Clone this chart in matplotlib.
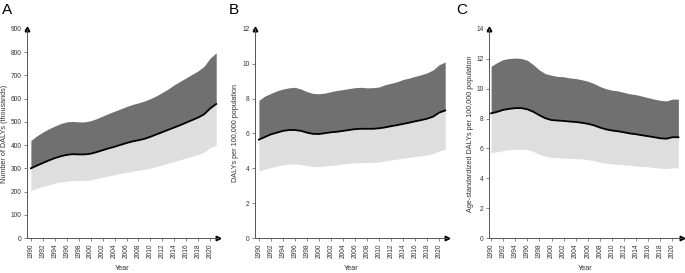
import numpy as np
import matplotlib.pyplot as plt

plt.rcParams['font.family'] = ['Liberation Sans', 'DejaVu Sans']

years = np.arange(1990, 2022)

# A: number of DALYs (thousands)
a_mean = [300, 312, 323, 334, 344, 352, 358, 361, 360, 360, 363, 370, 378, 386, 393, 401,
          409, 416, 421, 427, 436, 446, 456, 466, 476, 486, 497, 508, 519, 533, 558, 577]
a_upper = [420, 440, 456, 470, 482, 493, 500, 502, 500, 500, 505, 514, 525, 536, 546, 556,
           566, 575, 582, 590, 600, 612, 627, 642, 660, 675, 690, 705, 720, 740, 775, 797]
a_lower = [205, 214, 222, 229, 236, 241, 245, 247, 247, 248, 250, 256, 262, 267, 273, 278,
           283, 288, 292, 296, 301, 308, 315, 322, 330, 337, 345, 352, 360, 370, 390, 400]

# B: DALYs per 100,000
b_mean = [5.65, 5.8, 5.95, 6.05, 6.15, 6.2, 6.2, 6.15, 6.05, 5.98, 5.97, 6.02, 6.07, 6.1, 6.15, 6.2,
          6.25, 6.27, 6.27, 6.27, 6.3, 6.35, 6.42, 6.48, 6.55, 6.62, 6.7, 6.77, 6.85, 6.97, 7.2, 7.32]
b_upper = [7.9, 8.15, 8.3, 8.45, 8.55, 8.62, 8.65, 8.55, 8.4, 8.3, 8.28, 8.32, 8.4, 8.47, 8.52, 8.58,
           8.63, 8.65, 8.62, 8.63, 8.67, 8.8, 8.88, 8.97, 9.1, 9.18, 9.28, 9.37, 9.48, 9.65, 9.95, 10.1]
b_lower = [3.85, 3.95, 4.05, 4.13, 4.2, 4.23, 4.25, 4.22, 4.15, 4.1, 4.1, 4.13, 4.17, 4.2, 4.25, 4.28,
           4.32, 4.33, 4.33, 4.35, 4.37, 4.42, 4.48, 4.53, 4.58, 4.63, 4.68, 4.72, 4.77, 4.85, 5.0, 5.1]

# C: age-standardized DALYs per 100,000
c_mean = [8.35, 8.45, 8.58, 8.65, 8.7, 8.7, 8.62, 8.45, 8.22, 8.02, 7.9, 7.87, 7.84, 7.8, 7.77, 7.72,
          7.65, 7.55, 7.4, 7.28, 7.2, 7.15, 7.08, 7.0, 6.95, 6.88, 6.82, 6.75, 6.68, 6.65, 6.75, 6.75]
c_upper = [11.5, 11.75, 11.95, 12.02, 12.05, 12.02, 11.9, 11.6, 11.25, 11.0, 10.9, 10.82, 10.8, 10.72, 10.68, 10.6,
           10.5, 10.35, 10.15, 10.0, 9.9, 9.85, 9.75, 9.65, 9.6, 9.5, 9.4, 9.3, 9.22, 9.18, 9.3, 9.3]
c_lower = [5.7, 5.78, 5.85, 5.92, 5.95, 5.95, 5.92, 5.8, 5.6, 5.48, 5.4, 5.38, 5.35, 5.33, 5.32, 5.3,
           5.25, 5.18, 5.08, 5.0, 4.97, 4.93, 4.9, 4.87, 4.83, 4.8, 4.77, 4.72, 4.68, 4.65, 4.7, 4.7]

panels = [
    ('A', a_mean, a_upper, a_lower, 'Number of DALYs (thousands)', 900, 100,
     [27/685, 0.128, 191/685, 0.766], (1989.35, 2021.3), 5/685, 2/685),
    ('B', b_mean, b_upper, b_lower, 'DALYs per 100,000 population', 12, 2,
     [255/685, 0.128, 192/685, 0.766], (1989.35, 2021.3), 235/685, 229/685),
    ('C', c_mean, c_upper, c_lower, 'Age-standardized DALYs per 100,000 population', 14, 2,
     [489/685, 0.128, 193/685, 0.766], (1989.65, 2021.6), 470/685, 456/685),
]

fig = plt.figure(figsize=(6.85, 2.73), dpi=100)

for letter, mean, upper, lower, ylab, ymax, ystep, pos, xlim, ylab_x, let_x in panels:
    ax = fig.add_axes(pos)
    ax.fill_between(years, mean, upper, color='#707070', lw=0)
    ax.fill_between(years, lower, mean, color='#dedede', lw=0)
    ax.plot(years, mean, color='black', lw=1.3)
    ax.set_xlim(*xlim)
    ax.set_ylim(0, ymax)
    ax.set_xticks(np.arange(1990, 2021, 2))
    ax.set_xticklabels([str(y) for y in range(1990, 2021, 2)], rotation=90, fontsize=4.8, color='#333333')
    ax.set_yticks(np.arange(0, ymax + 1e-9, ystep))
    ax.tick_params(axis='y', labelsize=4.8, labelcolor='#333333', length=2, width=0.5, color='#555555', pad=2)
    ax.tick_params(axis='x', length=2, width=0.5, color='#555555', pad=2)
    for s in ['top', 'right']:
        ax.spines[s].set_visible(False)
    for s in ['left', 'bottom']:
        ax.spines[s].set_color('#555555')
        ax.spines[s].set_linewidth(0.7)
    # arrow heads at the axis ends
    ax.plot(1, 0, '>', color='black', ms=3.3, transform=ax.transAxes, clip_on=False)
    ax.plot(0, 1, '^', color='black', ms=3.3, transform=ax.transAxes, clip_on=False)
    fig.text(pos[0] + pos[2] / 2, 1 - 268/273, 'Year', ha='center', va='center', fontsize=5.2, color='#333333')
    fig.text(ylab_x, pos[1] + pos[3] / 2, ylab, rotation=90, ha='center', va='center', fontsize=5.2, color='#333333')
    fig.text(let_x, 1 - 10/273, letter, fontsize=11, ha='left', va='center')

fig.savefig('out.png', dpi=100)
